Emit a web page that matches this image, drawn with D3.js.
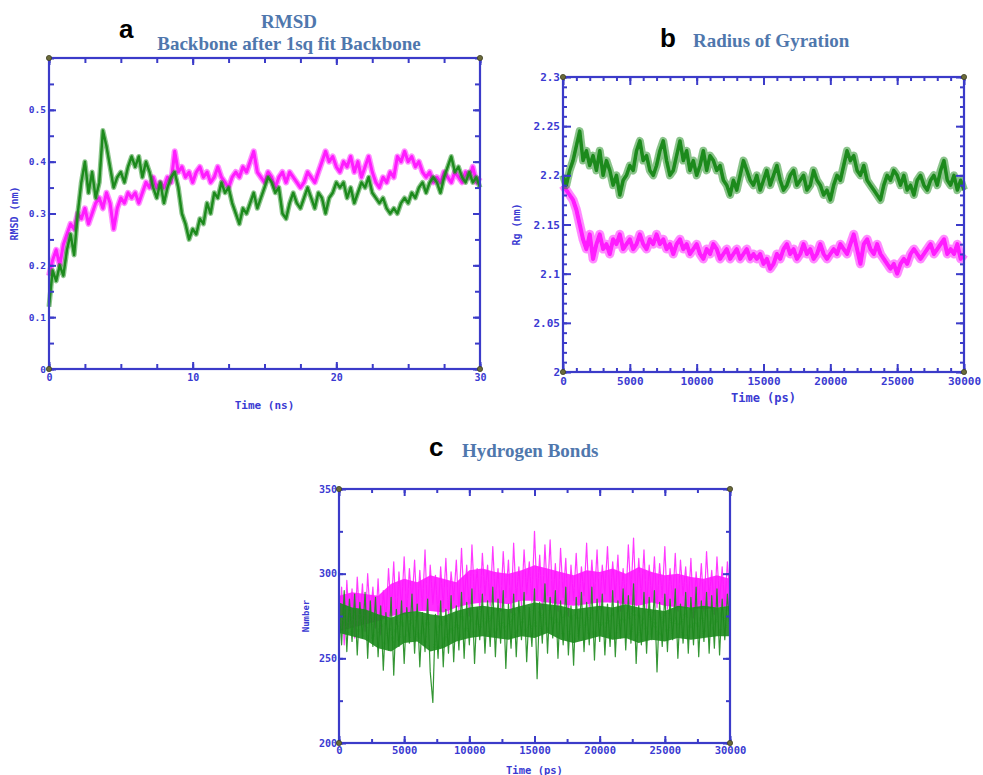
<!DOCTYPE html>
<html><head><meta charset="utf-8">
<script src="https://cdn.jsdelivr.net/npm/d3@7"></script>
<style>
html,body{margin:0;padding:0;background:#fff;}
svg{display:block;}
</style></head>
<body>
<script>
// ---------- DATA ----------
// Panel a: RMSD (nm), time 0..30 ns, sampled every 0.25 ns
const rmsdTimeMax = 30;
const rmsdGreen = [0.12,0.19,0.17,0.2,0.18,0.23,0.26,0.22,0.3,0.36,0.4,0.34,0.38,0.33,0.36,0.46,0.43,0.39,0.35,0.37,
0.38,0.36,0.39,0.41,0.39,0.41,0.37,0.4,0.38,0.35,0.33,0.36,0.32,0.35,0.37,0.38,0.35,0.3,0.28,0.25,
0.27,0.26,0.29,0.28,0.32,0.3,0.34,0.33,0.36,0.34,0.35,0.32,0.3,0.28,0.31,0.3,0.32,0.34,0.31,0.33,
0.35,0.37,0.36,0.34,0.35,0.3,0.29,0.32,0.34,0.32,0.31,0.33,0.35,0.33,0.31,0.34,0.33,0.3,0.33,0.34,
0.36,0.35,0.36,0.33,0.35,0.32,0.34,0.36,0.35,0.37,0.34,0.33,0.32,0.33,0.31,0.3,0.31,0.3,0.32,0.33,
0.32,0.34,0.33,0.35,0.36,0.34,0.36,0.37,0.36,0.34,0.37,0.39,0.41,0.38,0.39,0.37,0.36,0.38,0.36,0.37,0.35];
const rmsdMagenta = [0.18,0.21,0.23,0.2,0.24,0.26,0.28,0.27,0.3,0.29,0.31,0.28,0.3,0.32,0.33,0.31,0.34,0.32,0.27,0.31,
0.33,0.32,0.34,0.33,0.34,0.32,0.34,0.36,0.35,0.37,0.35,0.36,0.35,0.37,0.36,0.42,0.38,0.39,0.37,0.38,
0.36,0.38,0.39,0.37,0.38,0.36,0.37,0.39,0.37,0.36,0.35,0.37,0.38,0.37,0.39,0.38,0.4,0.42,0.38,0.37,
0.36,0.38,0.37,0.35,0.37,0.38,0.36,0.38,0.37,0.36,0.35,0.36,0.38,0.37,0.36,0.38,0.4,0.42,0.4,0.41,
0.39,0.38,0.4,0.39,0.41,0.38,0.4,0.37,0.39,0.41,0.38,0.36,0.35,0.37,0.36,0.38,0.37,0.41,0.4,0.42,
0.4,0.41,0.39,0.4,0.38,0.37,0.38,0.36,0.37,0.36,0.38,0.37,0.36,0.38,0.37,0.36,0.38,0.37,0.39,0.36,0.37];

// Panel b: Radius of gyration (nm), time 0..30000 ps, every 250 ps
const rgTimeMax = 30000;
const rgGreen = [2.2,2.19,2.205,2.215,2.23,2.245,2.215,2.225,2.21,2.22,2.205,2.225,2.2,2.215,2.205,2.19,2.2,2.18,2.195,2.2,
2.21,2.205,2.225,2.235,2.215,2.22,2.205,2.2,2.21,2.225,2.235,2.215,2.2,2.205,2.22,2.235,2.215,2.225,2.205,2.215,
2.2,2.21,2.225,2.205,2.22,2.215,2.205,2.21,2.195,2.19,2.18,2.195,2.185,2.2,2.215,2.205,2.195,2.19,2.2,2.185,
2.195,2.205,2.19,2.2,2.21,2.195,2.185,2.19,2.2,2.205,2.19,2.195,2.2,2.185,2.19,2.205,2.195,2.19,2.18,2.185,
2.175,2.19,2.2,2.195,2.21,2.225,2.215,2.22,2.205,2.2,2.21,2.195,2.19,2.185,2.18,2.175,2.19,2.2,2.195,2.205,
2.2,2.19,2.2,2.185,2.19,2.18,2.195,2.2,2.19,2.185,2.195,2.2,2.19,2.205,2.215,2.195,2.19,2.2,2.185,2.195,2.185];
const rgMagenta = [2.19,2.185,2.18,2.175,2.165,2.15,2.135,2.125,2.14,2.115,2.13,2.14,2.125,2.13,2.12,2.135,2.13,2.14,2.125,2.13,
2.135,2.125,2.13,2.14,2.13,2.125,2.135,2.13,2.14,2.13,2.135,2.125,2.13,2.12,2.13,2.135,2.125,2.13,2.12,2.125,
2.13,2.12,2.115,2.125,2.12,2.13,2.125,2.115,2.12,2.125,2.115,2.12,2.125,2.115,2.12,2.125,2.115,2.12,2.115,2.12,
2.11,2.115,2.105,2.11,2.12,2.115,2.125,2.13,2.12,2.125,2.115,2.12,2.13,2.12,2.125,2.115,2.12,2.13,2.12,2.115,
2.12,2.125,2.12,2.13,2.125,2.12,2.13,2.14,2.125,2.11,2.13,2.135,2.125,2.12,2.13,2.12,2.115,2.11,2.105,2.11,
2.1,2.11,2.115,2.11,2.12,2.125,2.12,2.115,2.12,2.125,2.13,2.12,2.125,2.13,2.135,2.12,2.125,2.12,2.13,2.115,2.12];

// Panel c: Hydrogen bonds (number), time 0..30000 ps, every 200 ps (spiky trace)
const hbTimeMax = 30000;
const hbGreen = [280,258,290,254,285,260,288,252,283,262,289,250,284,257,286,251,
281,243,277,255,286,240,279,257,284,247,280,259,288,253,282,
245,277,254,285,242,224,276,250,284,245,279,253,287,248,281,
255,289,250,283,258,291,247,280,261,288,253,284,257,292,251,
285,259,290,244,282,256,288,251,284,261,289,248,280,257,291,
238,283,259,294,253,286,262,290,250,284,258,292,252,281,246,
286,261,289,254,283,258,292,249,285,260,288,252,282,257,290,
251,284,262,291,255,287,259,294,247,281,258,289,253,286,261,
290,242,283,257,288,254,285,261,291,250,282,259,289,253,286,
258,292,251,284,260,289,253,287,256,291,252,285,261,288,267];
const hbMagenta = [266,292,258,296,270,291,262,298,272,294,266,300,274,292,268,297,
264,290,272,303,277,307,270,301,279,310,275,303,282,308,276,
302,279,314,273,305,282,299,274,304,280,309,276,301,284,308,
278,315,282,305,275,317,285,303,279,312,287,305,281,316,284,
303,278,313,286,308,277,318,284,304,281,314,288,307,283,325,
285,311,279,317,287,320,282,306,278,315,286,309,275,305,284,
312,281,304,287,318,280,308,285,314,279,305,288,316,283,307,
286,311,278,303,282,317,287,321,281,309,285,314,279,305,284,
310,280,306,286,316,279,303,283,312,278,308,287,304,281,309,
274,301,282,306,278,313,285,302,276,310,283,304,280,307,286];
// Panel c dense core band, every 1000 ps
const hbGreenLow  = [265,263,261,256,254,259,260,254,256,260,262,263,262,261,263,262,265,261,259,261,263,261,262,259,261,260,262,261,262,263,263];
const hbGreenHigh = [283,280,279,276,274,277,278,276,275,278,280,281,280,279,281,283,282,281,279,280,281,280,282,280,279,278,281,280,281,280,281];
const hbMagentaLow  = [266,268,270,272,275,276,278,278,277,280,282,283,283,282,284,284,283,282,281,282,283,283,282,281,283,281,280,280,279,280,281];
const hbMagentaHigh = [287,289,288,287,294,297,295,299,297,295,302,303,301,300,302,305,303,301,299,302,301,303,300,304,301,299,300,298,297,299,297];

// Tick values / labels
const rmsdXLabels = [0,10,20,30];
const rmsdYLabels = [0,0.1,0.2,0.3,0.4,0.5];
const rgXLabels = [0,5000,10000,15000,20000,25000,30000];
const rgYLabels = [2,2.05,2.1,2.15,2.2,2.25,2.3];
const hbXLabels = [0,5000,10000,15000,20000,25000,30000];
const hbYLabels = [200,250,300,350];

// ---------- DRAW ----------
const W = 983, H = 775;
const svg = d3.select("body").append("svg").attr("width", W).attr("height", H);
const defs = svg.append("defs");
defs.append("filter").attr("id","soft").append("feGaussianBlur").attr("stdDeviation",0.5);

const AXIS = "#3b3bc9", LBL = "#3a3ad2", TITLE = "#4f77ad";
const MAG = "#ff1aff", GRN = "#1c8a1c";
const MONO = "'DejaVu Sans Mono', monospace";

function rangeStep(a, b, s) { const out = []; for (let v = a; v <= b + s * 1e-6; v += s) out.push(+v.toFixed(6)); return out; }

function panel(o) {
  const g = svg.append("g");
  const x = d3.scaleLinear().domain(o.xDomain).range([o.left, o.right]);
  const y = d3.scaleLinear().domain(o.yDomain).range([o.bottom, o.top]);
  const lg = g.append("g").attr("filter", "url(#soft)");
  o.series.forEach(s => {
    if (s.low) {
      const m = s.low.length;
      const area = d3.area().x((d, i) => x(i * o.xDomain[1] / (m - 1))).y0(d => y(d)).y1((d, i) => y(s.high[i]));
      lg.append("path").attr("d", area(s.low)).attr("fill", s.color).attr("fill-opacity", 0.9);
    }
    const n = s.values.length;
    const line = d3.line().x((d, i) => x(i * o.xDomain[1] / (n - 1))).y(d => y(d));
    if (s.under) lg.append("path").attr("d", line(s.values)).attr("fill", "none")
      .attr("stroke", s.color).attr("stroke-width", s.under).attr("stroke-opacity", 0.5).attr("stroke-linejoin","round");
    lg.append("path").attr("d", line(s.values)).attr("fill", "none")
      .attr("stroke", s.color).attr("stroke-width", s.width).attr("stroke-opacity", s.op || 1).attr("stroke-linejoin","round");
  });
  const mk = (axisFn, scale, vals, size, tx, ty, fmt, pad, fs) => {
    const a = axisFn(scale).tickValues(vals).tickSizeInner(-size).tickSizeOuter(0).tickPadding(pad || 3)
      .tickFormat(fmt || (() => ""));
    const ag = g.append("g").attr("transform", `translate(${tx},${ty})`).call(a);
    ag.select(".domain").remove();
    ag.selectAll("line").attr("stroke", AXIS).attr("stroke-width", 2);
    ag.selectAll("text").attr("fill", LBL).style("font-family", MONO).style("font-weight", "bold")
      .style("font-size", (fs || 10) + "px");
    return ag;
  };
  [[d3.axisBottom, 0, o.bottom], [d3.axisTop, 0, o.top]].forEach(([f, tx, ty]) => {
    mk(f, x, o.xMinor, o.minorLen, tx, ty);
    mk(f, x, o.xMajor, o.majorLen, tx, ty);
  });
  [[d3.axisLeft, o.left, 0], [d3.axisRight, o.right, 0]].forEach(([f, tx, ty]) => {
    mk(f, y, o.yMinor, o.minorLen, tx, ty);
    mk(f, y, o.yMajor, o.majorLen, tx, ty);
  });
  mk(d3.axisBottom, x, o.xLabels, 0, 0, o.bottom, o.xFmt, o.xPad, o.xFs);
  mk(d3.axisLeft, y, o.yLabels, 0, o.left, 0, o.yFmt, o.yPad, o.yFs);
  g.append("rect").attr("x", o.left).attr("y", o.top).attr("width", o.right - o.left).attr("height", o.bottom - o.top)
    .attr("fill", "none").attr("stroke", AXIS).attr("stroke-width", 2.2);
  [[o.left, o.top], [o.right, o.top], [o.left, o.bottom], [o.right, o.bottom]].forEach(([cx, cy]) =>
    g.append("circle").attr("cx", cx).attr("cy", cy).attr("r", 2.6).attr("fill", "#6b6b3a").attr("stroke","#3d3d22").attr("stroke-width",0.8));
  g.append("text").attr("x", (o.left + o.right) / 2).attr("y", o.xTitleY).attr("text-anchor", "middle")
    .attr("fill", LBL).style("font-family", MONO).style("font-weight", "bold").style("font-size", o.xTitleFs + "px")
    .text(o.xTitle);
  g.append("text").attr("transform", `translate(${o.yTitleX},${(o.top + o.bottom) / 2}) rotate(-90)`)
    .attr("text-anchor", "middle").attr("dominant-baseline", "middle")
    .attr("fill", LBL).style("font-family", MONO).style("font-weight", "bold").style("font-size", o.yTitleFs + "px")
    .text(o.yTitle);
}

// Panel a
panel({
  left: 49, right: 480, top: 58, bottom: 369,
  xDomain: [0, rmsdTimeMax], yDomain: [0, 0.6],
  xMajor: rmsdXLabels, xMinor: rangeStep(0, 30, 2.5), yMajor: rmsdYLabels, yMinor: rangeStep(0, 0.6, 0.05),
  majorLen: 7, minorLen: 5,
  xLabels: rmsdXLabels, yLabels: rmsdYLabels,
  xFmt: d3.format("d"), yFmt: d => d === 0 ? "0" : d3.format(".1f")(d),
  xPad: 5, yPad: 3, xFs: 10, yFs: 9.5,
  series: [{ values: rmsdMagenta, color: MAG, width: 3, under: 6 }, { values: rmsdGreen, color: GRN, width: 2.4, under: 5 }],
  xTitle: "Time (ns)", xTitleY: 409, xTitleFs: 11,
  yTitle: "RMSD (nm)", yTitleX: 15, yTitleFs: 10
});

// Panel b
panel({
  left: 563, right: 964, top: 77, bottom: 372,
  xDomain: [0, rgTimeMax], yDomain: [2, 2.3],
  xMajor: rgXLabels, xMinor: rangeStep(0, 30000, 1000), yMajor: rgYLabels, yMinor: rangeStep(2, 2.3, 0.01),
  majorLen: 8, minorLen: 4,
  xLabels: rgXLabels, yLabels: rgYLabels,
  xFmt: d3.format("d"), yFmt: d => d3.format("~g")(d),
  xPad: 5, yPad: 3, xFs: 11, yFs: 11,
  series: [{ values: rgMagenta, color: MAG, width: 4, under: 9 }, { values: rgGreen, color: GRN, width: 3.5, under: 8 }],
  xTitle: "Time (ps)", xTitleY: 402, xTitleFs: 12,
  yTitle: "Rg (nm)", yTitleX: 517, yTitleFs: 10
});

// Panel c
panel({
  left: 339, right: 730, top: 489, bottom: 743,
  xDomain: [0, hbTimeMax], yDomain: [200, 350],
  xMajor: hbXLabels, xMinor: rangeStep(0, 30000, 2500), yMajor: hbYLabels, yMinor: rangeStep(200, 350, 25),
  majorLen: 7, minorLen: 4,
  xLabels: hbXLabels, yLabels: hbYLabels,
  xFmt: d3.format("d"), yFmt: d3.format("d"),
  xPad: 4, yPad: 2, xFs: 10.5, yFs: 10,
  series: [{ values: hbMagenta, color: MAG, width: 1.2, op: 0.85, low: hbMagentaLow, high: hbMagentaHigh },
           { values: hbGreen, color: GRN, width: 1.2, op: 0.9, low: hbGreenLow, high: hbGreenHigh }],
  xTitle: "Time (ps)", xTitleY: 774, xTitleFs: 10.5,
  yTitle: "Number", yTitleX: 306, yTitleFs: 9
});

// Titles
const titles = [
  { letter: "a", lx: 119, ly: 38, lines: ["RMSD", "Backbone after 1sq fit Backbone"], tx: 289, ty: [28, 50], anchor: "middle" },
  { letter: "b", lx: 660, ly: 47, lines: ["Radius of Gyration"], tx: 693, ty: [47], anchor: "start" },
  { letter: "c", lx: 429, ly: 456, lines: ["Hydrogen Bonds"], tx: 462, ty: [457], anchor: "start" }
];
titles.forEach(t => {
  svg.append("text").attr("x", t.lx).attr("y", t.ly).text(t.letter)
    .style("font-family", "'Liberation Sans', Arial, sans-serif").style("font-weight", "bold").style("font-size", "26px").attr("fill", "#000");
  t.lines.forEach((s, i) => svg.append("text").attr("x", t.tx).attr("y", t.ty[i]).attr("text-anchor", t.anchor).text(s)
    .style("font-family", "'Liberation Serif', 'Times New Roman', serif").style("font-weight", "bold").style("font-size", "19px")
    .attr("fill", TITLE));
});
</script>
</body></html>
